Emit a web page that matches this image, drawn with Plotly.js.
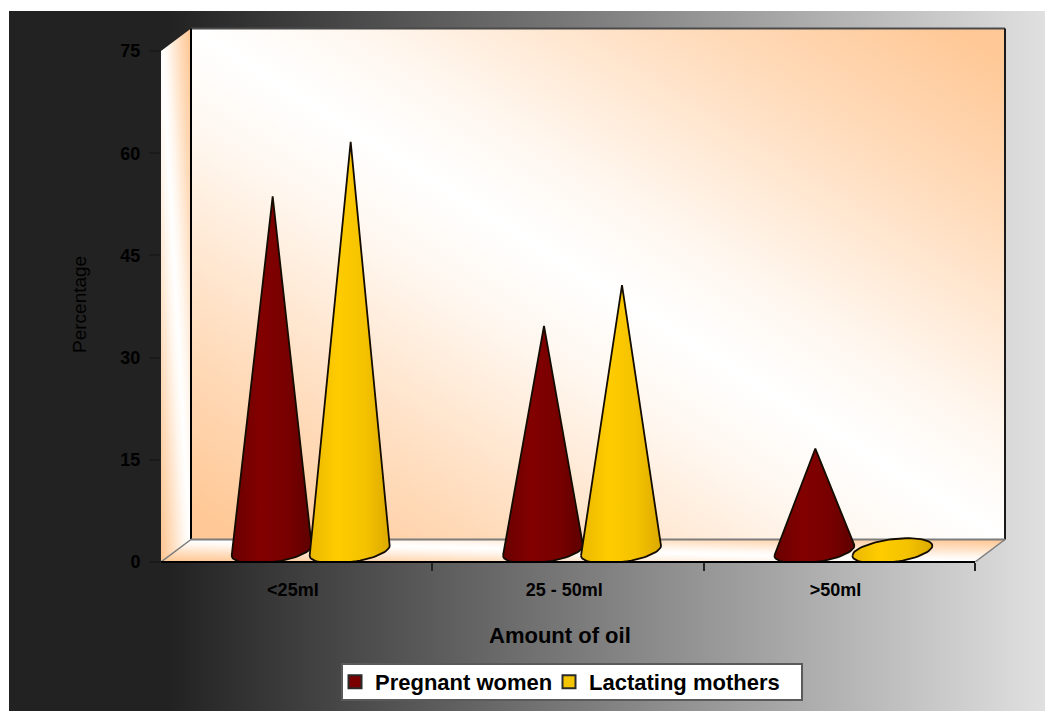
<!DOCTYPE html>
<html>
<head>
<meta charset="utf-8">
<title>Amount of oil</title>
<script src="https://cdn.plot.ly/plotly-3.0.1.min.js"></script>
<style>html,body{margin:0;padding:0;background:#fff;overflow:hidden}#chart{width:1045px;height:711px}</style>
</head>
<body>
<div id="chart"></div>
<script>
// Series and labels
const categories = ['<25ml', '25 - 50ml', '>50ml'];
const pregnantWomen = [52, 33, 15];
const lactatingMothers = [60, 39, 1];
const seriesNames = ['Pregnant women', 'Lactating mothers'];
const yTicks = [0, 15, 30, 45, 60, 75];

// Front face of the box in pixels, and its axis extents
const W = 1045, H = 711;
const front = {l: 161, r: 975, t: 51, b: 562};
const Y_MAX = 75, X_MIN = -0.5, X_MAX = 2.5;
const pxPerX = (front.r - front.l) / (X_MAX - X_MIN), pxPerY = (front.b - front.t) / Y_MAX;

// Box depth of the pseudo 3D scene, in pixels and in axis units
const depthPx = {x: 30, y: 22.5};
const depth = {x: depthPx.x / pxPerX, y: depthPx.y / pxPerY};

// The plot area also holds the back wall, so its edges are not clipped
const pad = {x: 32, y: 25};
const M = {l: front.l, r: W - front.r - pad.x, t: front.t - pad.y, b: H - front.b};
const plotW = W - M.l - M.r, plotH = H - M.t - M.b;
const paperX = px => (px - M.l) / plotW;
const paperY = py => (H - M.b - py) / plotH;

// Cone base: sheared ellipse, in axis units
const base = {a: 40 / pxPerX, b: 11.5 / pxPerY, shear: 5 / pxPerY, lean: -1 / pxPerX};
const coneOffset = 39 / pxPerX;

function hull(points) {
  const p = points.slice().sort((u, v) => u[0] - v[0] || u[1] - v[1]);
  const cross = (o, a, b) => (a[0] - o[0]) * (b[1] - o[1]) - (a[1] - o[1]) * (b[0] - o[0]);
  const walk = list => {
    const out = [];
    for (const q of list) {
      while (out.length > 1 && cross(out[out.length - 2], out[out.length - 1], q) <= 0) out.pop();
      out.push(q);
    }
    out.pop();
    return out;
  };
  return walk(p).concat(walk(p.slice().reverse()));
}

function coneOutline(cx, value) {
  const cy = depth.y / 2;
  const pts = [[cx, cy + value]];
  for (let i = 0; i < 72; i++) {
    const t = i / 72 * 2 * Math.PI;
    pts.push([cx + base.lean + base.a * Math.cos(t), cy + base.b * Math.sin(t) + base.shear * Math.cos(t)]);
  }
  const h = hull(pts);
  h.push(h[0]);
  return h;
}

const maroonShade = [[0, '#6a0000'], [0.35, '#820000'], [0.7, '#780000'], [1, '#5e0000']];
const goldShade = [[0, '#eab800'], [0.35, '#ffcc00'], [0.7, '#f4c200'], [1, '#dcaa00']];

function coneTrace(value, idx, side, shade, name) {
  const cx = idx + depth.x / 2 + side * coneOffset;
  const outline = coneOutline(cx, value);
  return {
    x: outline.map(p => p[0]), y: outline.map(p => p[1]),
    type: 'scatter', mode: 'lines', fill: 'toself',
    fillgradient: {type: 'horizontal', colorscale: shade},
    line: {color: '#140c00', width: 1.8},
    hoverinfo: 'skip', showlegend: false, name: name
  };
}

// Wall edges of the box
function edge(xs, ys, color, width) {
  return {x: xs, y: ys, type: 'scatter', mode: 'lines', line: {color: color, width: width},
          hoverinfo: 'skip', showlegend: false};
}
const xb0 = X_MIN + depth.x, xb1 = X_MAX + depth.x, yb0 = depth.y, yb1 = Y_MAX + depth.y;
const traces = [
  edge([xb0, xb1], [yb1, yb1], '#4a4a4a', 2),
  edge([xb0, xb0], [yb0, yb1], '#000000', 2),
  edge([xb1, xb1], [yb0, yb1], '#1a1a1a', 2),
  edge([xb0, xb1], [yb0, yb0], '#7d7d7d', 2),
  edge([X_MIN, xb0], [0, yb0], '#7d7d7d', 1.5),
  edge([X_MAX, xb1], [0, yb0], '#7d7d7d', 1.5)
];

categories.forEach((c, i) => {
  traces.push(coneTrace(pregnantWomen[i], i, -1, maroonShade, seriesNames[0]));
  traces.push(coneTrace(lactatingMothers[i], i, 1, goldShade, seriesNames[1]));
});

// Legend entries, one legend per series so each can be placed on its own
[[seriesNames[0], '#7a0000', 'legend'], [seriesNames[1], '#f5c400', 'legend2']].forEach(([name, color, ref]) => {
  traces.push({
    x: [null], y: [null], type: 'scatter', mode: 'markers', name: name, legend: ref,
    marker: {symbol: 'square', size: 13, color: color, line: {color: '#2a2a2a', width: 2}},
    hoverinfo: 'skip', showlegend: true
  });
});

// Backdrop: panel gradient plus the three shaded walls
function backdrop() {
  const cv = document.createElement('canvas');
  cv.width = W; cv.height = H;
  const g = cv.getContext('2d');
  g.fillStyle = '#fff';
  g.fillRect(0, 0, W, H);
  const panel = g.createLinearGradient(0, 0, W, 0);
  panel.addColorStop(0, '#222222');
  panel.addColorStop(170 / W, '#222222');
  panel.addColorStop(1, '#e0e0e0');
  g.fillStyle = panel;
  g.fillRect(9, 11, W - 9, H - 11);

  const x0 = front.l, x1 = front.r, y0 = front.b, y1 = front.t;
  const dx = depthPx.x, dy = depthPx.y;
  const wall = (poly, bx, by, bw, bh) => {
    g.save();
    g.beginPath();
    poly.forEach((p, i) => i ? g.lineTo(p[0], p[1]) : g.moveTo(p[0], p[1]));
    g.closePath();
    g.clip();
    g.translate(bx, by);
    g.scale(bw, bh);
    const s = g.createLinearGradient(0, 1, 1, 0);
    s.addColorStop(0.03, '#ffc896');
    s.addColorStop(0.2, '#ffdcbc');
    s.addColorStop(0.4, '#fff7ef');
    s.addColorStop(0.5, '#ffffff');
    s.addColorStop(0.6, '#fff7ef');
    s.addColorStop(0.8, '#ffdcbc');
    s.addColorStop(0.97, '#ffc896');
    g.fillStyle = s;
    g.fillRect(0, 0, 1, 1);
    g.restore();
  };
  wall([[x0 + dx, y1 - dy], [x1 + dx, y1 - dy], [x1 + dx, y0 - dy], [x0 + dx, y0 - dy]],
       x0 + dx, y1 - dy, x1 - x0, y0 - y1);
  wall([[x0, y1], [x0 + dx, y1 - dy], [x0 + dx, y0 - dy], [x0, y0]], x0, y1 - dy, dx, y0 - y1 + dy);
  wall([[x0, y0], [x0 + dx, y0 - dy], [x1 + dx, y0 - dy], [x1, y0]], x0, y0 - dy, x1 - x0 + dx, dy);
  return cv.toDataURL('image/png');
}

const family = 'Liberation Sans, Arial, sans-serif';
const boldFont = {family: family, size: 18, color: '#000', weight: 700};
const legendBase = {
  orientation: 'h', xref: 'container', yref: 'container',
  y: 1 - 661 / H, xanchor: 'left', yanchor: 'top',
  bgcolor: 'rgba(0,0,0,0)', borderwidth: 0, itemclick: false, itemdoubleclick: false,
  font: {family: family, size: 22, color: '#000', weight: 700}
};

const layout = {
  width: W, height: H,
  margin: M,
  paper_bgcolor: '#ffffff',
  plot_bgcolor: 'rgba(0,0,0,0)',
  font: {family: family, color: '#000'},
  hovermode: false,
  images: [{
    source: backdrop(), xref: 'paper', yref: 'paper',
    x: paperX(0), y: paperY(0), sizex: W / plotW, sizey: H / plotH,
    xanchor: 'left', yanchor: 'top', sizing: 'stretch', layer: 'below'
  }],
  xaxis: {
    range: [X_MIN, X_MAX + pad.x / pxPerX], showgrid: false, zeroline: false, fixedrange: true,
    tickvals: categories.map((c, i) => i - 0.014), ticktext: categories,
    ticks: '', ticklen: 0, ticklabelstandoff: 15, tickfont: boldFont, showline: false,
    minor: {tickvals: [-0.5, 0.5, 1.5, 2.5], ticks: 'outside', ticklen: 8, tickcolor: '#222', tickwidth: 2, showgrid: false}
  },
  yaxis: {
    range: [0, Y_MAX + pad.y / pxPerY], showgrid: false, zeroline: false, fixedrange: true,
    tickvals: yTicks, ticks: 'outside', ticklen: 11, tickwidth: 2, tickcolor: '#1a1a1a',
    ticklabelstandoff: 5, tickfont: boldFont, showline: false
  },
  shapes: [
    // x axis line, spanning the front of the floor only
    {type: 'line', xref: 'x', yref: 'paper', x0: X_MIN, x1: X_MAX, y0: 0, y1: 0,
     line: {color: '#000', width: 2}, layer: 'above'},
    // legend frame
    {type: 'rect', xref: 'paper', yref: 'paper',
     x0: paperX(342), x1: paperX(802), y0: paperY(664), y1: paperY(700),
     fillcolor: '#ffffff', line: {color: '#5a5a5a', width: 2}, layer: 'above'}
  ],
  annotations: [{
    text: 'Amount of oil', xref: 'paper', yref: 'paper', showarrow: false,
    x: paperX(560), y: paperY(635), xanchor: 'center', yanchor: 'middle',
    font: {family: family, size: 22, color: '#000', weight: 700}
  }, {
    text: 'Percentage', xref: 'paper', yref: 'paper', showarrow: false, textangle: -90,
    x: paperX(80), y: paperY(305), xanchor: 'center', yanchor: 'middle',
    font: {family: family, size: 19, color: '#000'}
  }],
  legend: Object.assign({}, legendBase, {x: 335 / W}),
  legend2: Object.assign({}, legendBase, {x: 549 / W})
};

Plotly.newPlot('chart', traces, layout, {displayModeBar: false, staticPlot: true});
</script>
</body>
</html>
